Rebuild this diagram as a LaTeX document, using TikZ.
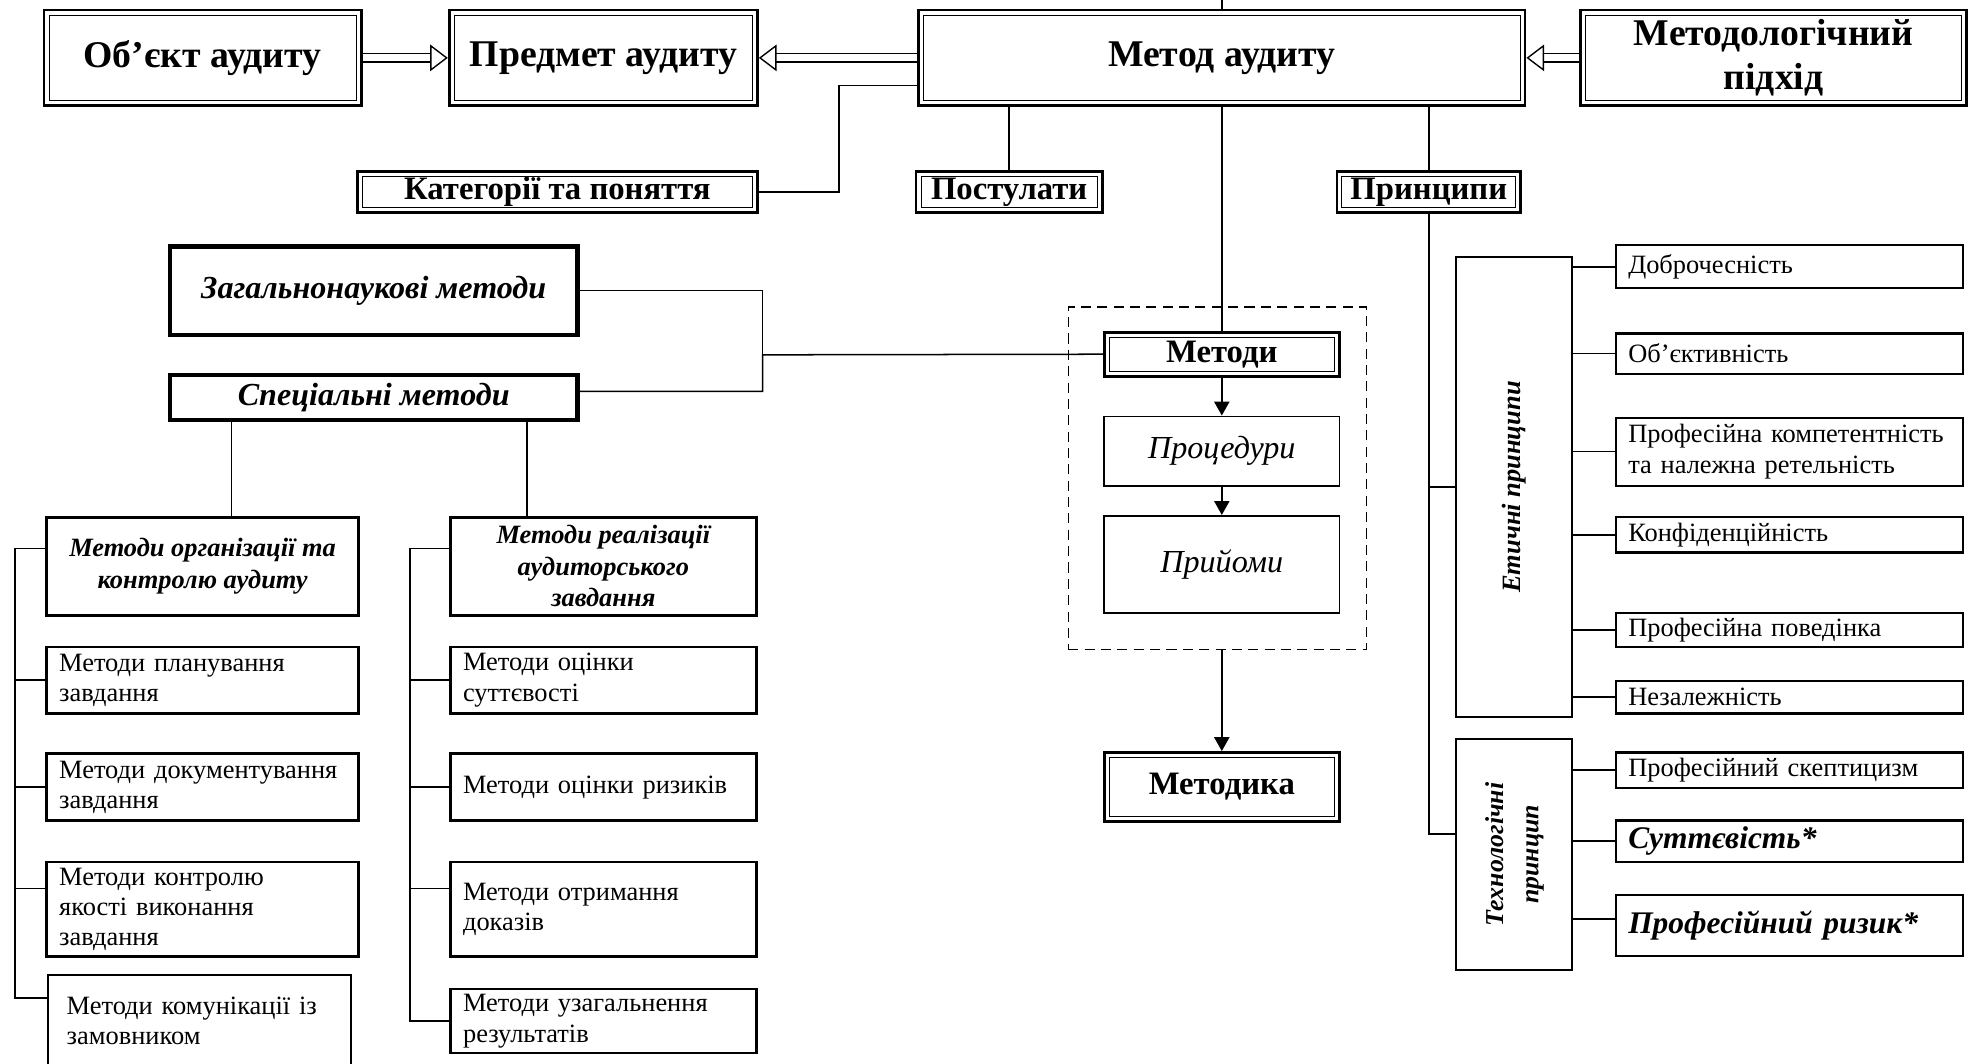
\documentclass[tikz,border=0pt]{standalone}
\usepackage{fontspec}
\setmainfont{Liberation Serif}
\usepackage{graphicx}
\usetikzlibrary{arrows.meta}

\newcommand\fhead{\fontsize{30}{35}\selectfont\bfseries}
\newcommand\fsub{\fontsize{26}{30}\selectfont\bfseries}
\newcommand\fbig{\fontsize{26}{30}\selectfont\bfseries}
\newcommand\fmeth{\fontsize{25.5}{30}\selectfont\bfseries\itshape}
\newcommand\fgrp{\fontsize{21}{25}\selectfont\bfseries\itshape}
\newcommand\fitem{\fontsize{21}{24}\selectfont}
\newcommand\fstep{\fontsize{25.5}{30}\selectfont\itshape}
\newcommand\fstar{\fontsize{25}{30}\selectfont\bfseries\itshape}

\tikzset{
  dblbox/.style={draw,line width=2.2pt,inner sep=0pt,align=center,
    path picture={\draw[line width=0.8pt]
      ([shift={(4pt,4pt)}]path picture bounding box.south west) rectangle
      ([shift={(-4pt,-4pt)}]path picture bounding box.north east);}},
  heavybox/.style={draw,line width=3.5pt,inner sep=0pt,font=\fmeth},
  headbox/.style={draw,line width=2.4pt,inner sep=0pt,align=center,font=\fgrp},
  itembox/.style={draw,line width=2pt,inner xsep=10pt,inner ysep=0pt,align=left,
    text width=#1,font=\fitem},
  rulebox/.style={draw,line width=1.8pt,inner xsep=10pt,inner ysep=0pt,align=left,
    text width=256pt,font=\fitem},
  stepbox/.style={draw,line width=1.5pt,inner sep=0pt,font=\fstep},
  sidebox/.style={draw,line width=1.5pt,inner sep=0pt},
  link/.style={line width=1.2pt},
  flow/.style={link,-{Triangle[length=11pt,width=12pt]}},
  hollow/.style={double,double distance=5.5pt,line width=1.1pt,
    -{Triangle[open,length=14pt,width=21pt,line width=1.1pt]}}
}

\begin{document}
\begin{tikzpicture}[x=1pt,y=-1pt]
\useasboundingbox (0,0) rectangle (1568,845);

\node (grp) at (967.5,380) [draw,line width=1.2pt,dash pattern=on 8pt off 5pt,minimum width=237pt,minimum height=272pt] {};

\node (obj) at (161,46) [dblbox,font=\fhead,minimum width=252pt,minimum height=76pt] {Об’єкт аудиту};
\node (pred) at (479.5,46) [dblbox,font=\fhead,minimum width=245pt,minimum height=76pt] {Предмет аудиту};
\node (metod) at (971,46) [dblbox,font=\fhead,minimum width=482pt,minimum height=76pt] {Метод аудиту};
\node (mp) at (1409.5,46) [dblbox,font=\fhead,minimum width=307pt,minimum height=76pt] {Методологічний\\підхід};
\coordinate (top) at (971,0);

\node (kat) at (443,152.5) [dblbox,font=\fsub,minimum width=318pt,minimum height=33pt] {Категорії та поняття};
\node (post) at (802,152.5) [dblbox,font=\fsub,minimum width=148pt,minimum height=33pt] {Постулати};
\node (pryn) at (1135.5,152.5) [dblbox,font=\fsub,minimum width=146pt,minimum height=33pt] {Принципи};

\node (zag) at (297,231) [heavybox,minimum width=324pt,minimum height=70pt] {Загальнонаукові методи};
\node (spec) at (297,316) [heavybox,minimum width=324pt,minimum height=36pt] {Спеціальні методи};
\coordinate (jn) at (606,282);

\node (org) at (161,450) [headbox,minimum width=248pt,minimum height=78pt] {Методи організації та\\контролю аудиту};
\node (real) at (479.5,450) [headbox,minimum width=243pt,minimum height=78pt] {Методи реалізації\\аудиторського\\завдання};

\node (plan) at (161,540.5) [itembox=228pt,minimum height=53pt] {Методи планування\\завдання};
\node (doc) at (161,625.5) [itembox=228pt,minimum height=53pt] {Методи документування\\завдання};
\node (kontr) at (161,722.5) [itembox=228pt,minimum height=75pt] {Методи контролю\\якості виконання\\завдання};
\node (komun) at (158.5,811) [itembox=211pt,inner xsep=15pt,line width=1.2pt,minimum height=72pt] {Методи комунікації із\\замовником};

\node (sut) at (479.5,540.5) [itembox=223pt,minimum height=53pt] {Методи оцінки\\суттєвості};
\node (ryz) at (479.5,625.5) [itembox=223pt,minimum height=53pt] {Методи оцінки ризиків};
\node (otr) at (479.5,722.5) [itembox=223pt,minimum height=75pt] {Методи отримання\\доказів};
\node (uzag) at (479.5,811.5) [itembox=223pt,minimum height=51pt] {Методи узагальнення\\результатів};

\node (metody) at (971,281.5) [dblbox,font=\fsub,minimum width=187pt,minimum height=35pt] {Методи};
\node (proc) at (971,358.5) [stepbox,minimum width=187pt,minimum height=55pt] {Процедури};
\node (pryi) at (971,448.5) [stepbox,minimum width=187pt,minimum height=77pt] {Прийоми};
\node (mtdk) at (971,625.5) [dblbox,font=\fbig,minimum width=187pt,minimum height=55pt] {Методика};

\node (etic) at (1203,387) [sidebox,font={\fontsize{21}{26}\selectfont\bfseries\itshape},minimum width=92pt,minimum height=366pt] {\rotatebox{90}{Етичні принципи}};
\node (tech) at (1203,679) [sidebox,font={\fontsize{20.5}{28}\selectfont\bfseries\itshape},minimum width=92pt,minimum height=184pt] {\rotatebox{90}{\begin{tabular}{@{}c@{}}Технологічні\\принцип\end{tabular}}};

\node (dob) at (1422,212) [rulebox,minimum height=34pt] {Доброчесність};
\node (obk) at (1422,281) [rulebox,minimum height=32pt] {Об’єктивність};
\node (komp) at (1422,359) [rulebox,minimum height=54pt] {Професійна компетентність\\та належна ретельність};
\node (konf) at (1422,425) [rulebox,minimum height=28pt] {Конфіденційність};
\node (povd) at (1422,500.5) [rulebox,minimum height=27pt] {Професійна поведінка};
\node (nez) at (1422,554) [rulebox,minimum height=26pt] {Незалежність};
\node (skep) at (1422,612) [rulebox,minimum height=28pt] {Професійний скептицизм};
\node (sutt) at (1422,668.5) [rulebox,font=\fstar,minimum height=33pt] {Суттєвість*};
\node (ryzyk) at (1422,735.5) [rulebox,font=\fstar,minimum height=49pt] {Професійний ризик*};

\draw[hollow] (obj) -- (pred);
\draw[hollow] (metod) -- (pred);
\draw[hollow] (mp) -- (metod);

\draw[link] (metod.north) -- (top);
\draw[link] ([yshift=-22pt]metod.west) -- ++(-62,0) |- (kat.east);
\draw[link] (post.north) -- (post.north |- metod.south);
\draw[link] (pryn.north) -- (pryn.north |- metod.south);
\draw[link] (metod.south) -- (metody.north);
\draw[link] (zag.east) -| (jn);
\draw[link] ([yshift=5pt]spec.east) -| (jn) -- (metody.west);

\draw[link] ([xshift=-113pt]spec.south) -- ([xshift=23pt]org.north);
\draw[link] ([xshift=122pt]spec.south) -- ([xshift=-60.5pt]real.north);
\coordinate (lbus) at (12,436);
\coordinate (rbus) at (326,436);
\draw[link] ([yshift=14pt]org.west) -- (lbus) |- ([yshift=18pt]komun.west);
\foreach \n in {plan,doc} \draw[link] (\n.west) -- (\n.west -| lbus);
\draw[link] ([yshift=16.5pt]kontr.west) -- ([yshift=16.5pt]kontr.west -| lbus);
\draw[link] ([yshift=14pt]real.west) -- (rbus) |- (uzag.west);
\foreach \n in {sut,ryz} \draw[link] (\n.west) -- (\n.west -| rbus);
\draw[link] ([yshift=16.5pt]otr.west) -- ([yshift=16.5pt]otr.west -| rbus);

\draw[flow] (metody) -- (proc);
\draw[flow] (proc) -- (pryi);
\draw[flow] (grp.south -| mtdk.north) -- (mtdk);

\draw[link] (pryn.south) |- ([yshift=16pt]tech.west);
\draw[link] (etic.west) -- (etic.west -| pryn.south);
\foreach \n in {dob,obk,komp,konf,povd,nez} \draw[link] (\n.west) -- (\n.west -| etic.east);
\foreach \n in {skep,sutt} \draw[link] (\n.west) -- (\n.west -| tech.east);
\draw[link] ([yshift=5pt]ryzyk.west) -- ([yshift=5pt]ryzyk.west -| tech.east);
\end{tikzpicture}
\end{document}
